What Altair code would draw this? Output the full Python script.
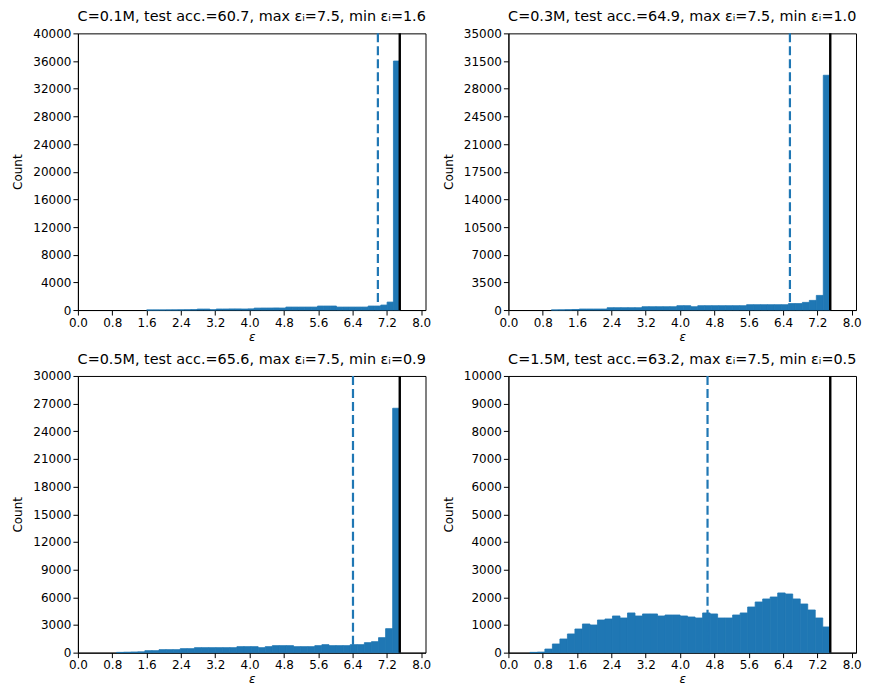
import numpy as np
import pandas as pd
import altair as alt

# ---------------- data ----------------
titles = [
    "C=0.1M, test acc.=60.7, max εᵢ=7.5, min εᵢ=1.6",
    "C=0.3M, test acc.=64.9, max εᵢ=7.5, min εᵢ=1.0",
    "C=0.5M, test acc.=65.6, max εᵢ=7.5, min εᵢ=0.9",
    "C=1.5M, test acc.=63.2, max εᵢ=7.5, min εᵢ=0.5",
]
eps_min = [1.6, 1.0, 0.9, 0.5]
eps_max = [7.5, 7.5, 7.5, 7.5]
eps_mean = [6.99, 6.56, 6.41, 4.64]

counts_1 = [5, 8, 10, 15, 20, 30, 40, 60, 140, 140,
            40, 150, 150, 160, 160, 150, 170, 280, 290, 290,
            300, 290, 430, 430, 430, 430, 430, 580, 580, 580,
            430, 430, 430, 430, 430, 580, 580, 720, 1150, 36000]
counts_2 = [10, 20, 40, 70, 130, 130, 130, 130, 295, 295,
            295, 295, 295, 420, 420, 420, 420, 420, 550, 550,
            420, 550, 550, 550, 550, 550, 550, 550, 675, 675,
            675, 675, 675, 675, 820, 820, 970, 1220, 1850, 29700]
counts_3 = [30, 50, 70, 90, 215, 215, 325, 325, 325, 433,
            433, 540, 540, 540, 540, 540, 540, 650, 650, 650,
            540, 650, 760, 760, 760, 650, 650, 650, 760, 866,
            760, 760, 760, 866, 866, 1083, 1190, 1625, 2600, 26500]
counts_4 = [10, 20, 130, 313, 494, 675, 855, 1036, 1000, 1180,
            1217, 1325, 1253, 1434, 1325, 1398, 1398, 1325, 1361, 1361,
            1325, 1289, 1253, 1434, 1398, 1253, 1253, 1361, 1434, 1650,
            1831, 1940, 2012, 2157, 2120, 1940, 1759, 1542, 1253, 928]
all_counts = [counts_1, counts_2, counts_3, counts_4]

y_max = [40000, 35000, 30000, 10000]
y_step = [4000, 3500, 3000, 1000]
x_ticks = [0.0, 0.8, 1.6, 2.4, 3.2, 4.0, 4.8, 5.6, 6.4, 7.2, 8.0]
x_domain = [0.0, 8.1]

BLUE = "#1f77b4"
FONT = "DejaVu Sans"
W, H = 348, 277


def panel(i):
    counts = all_counts[i]
    n = len(counts)
    edges = np.linspace(eps_min[i], eps_max[i], n + 1)
    df = pd.DataFrame({"x0": edges[:-1], "x1": edges[1:], "count": counts, "zero": 0})
    xs = alt.Scale(domain=x_domain, nice=False, zero=False)
    ys = alt.Scale(domain=[0, y_max[i]], nice=False)
    x_axis = alt.Axis(values=x_ticks, format=".1f", title="ε",
                      titleFontStyle="italic", labelOverlap=False,
                      labelFlush=False)
    bars = alt.Chart(df).mark_rect(color=BLUE, stroke=BLUE, strokeWidth=0.8).encode(
        x=alt.X("x0:Q", scale=xs, axis=x_axis),
        x2="x1:Q",
        y=alt.Y("count:Q", scale=ys,
                axis=alt.Axis(values=list(range(0, y_max[i] + 1, y_step[i])),
                              format="d", title="Count", labelOverlap=False)),
        y2="zero:Q",
    )
    mean_line = alt.Chart(pd.DataFrame({"x": [eps_mean[i]]})).mark_rule(
        color=BLUE, strokeDash=[9, 4], strokeWidth=2.2
    ).encode(x=alt.X("x:Q", scale=xs, axis=x_axis))
    max_line = alt.Chart(pd.DataFrame({"x": [eps_max[i]]})).mark_rule(
        color="black", strokeWidth=2.4
    ).encode(x=alt.X("x:Q", scale=xs, axis=x_axis))
    return alt.layer(bars, mean_line, max_line).properties(
        width=W, height=H,
        title=alt.TitleParams(titles[i], font=FONT, fontSize=14.4,
                              fontWeight="normal", color="black", offset=3,
                              anchor="middle", frame="group"),
    )


row1 = alt.hconcat(panel(0), panel(1), spacing=10)
row2 = alt.hconcat(panel(2), panel(3), spacing=10)
chart = alt.vconcat(row1, row2, spacing=8).properties(
    padding={"left": 3, "top": 0, "right": 0, "bottom": 0}
).configure_view(
    stroke="black", strokeWidth=1
).configure_title(
    font=FONT, fontSize=14.4, fontWeight="normal", color="black"
).configure_axis(
    grid=False, labelFont=FONT, titleFont=FONT, labelFontSize=12,
    titleFontSize=12, labelColor="black", titleColor="black",
    titleFontWeight="normal", domainColor="black", tickColor="black",
    tickSize=5, labelPadding=2, domainWidth=1,
).configure_axisY(titlePadding=8).configure_axisX(
    titlePadding=3, labelOverlap=False, labelFlush=False
)

chart.save("out.html", embed_options={"renderer": "svg", "actions": False})
